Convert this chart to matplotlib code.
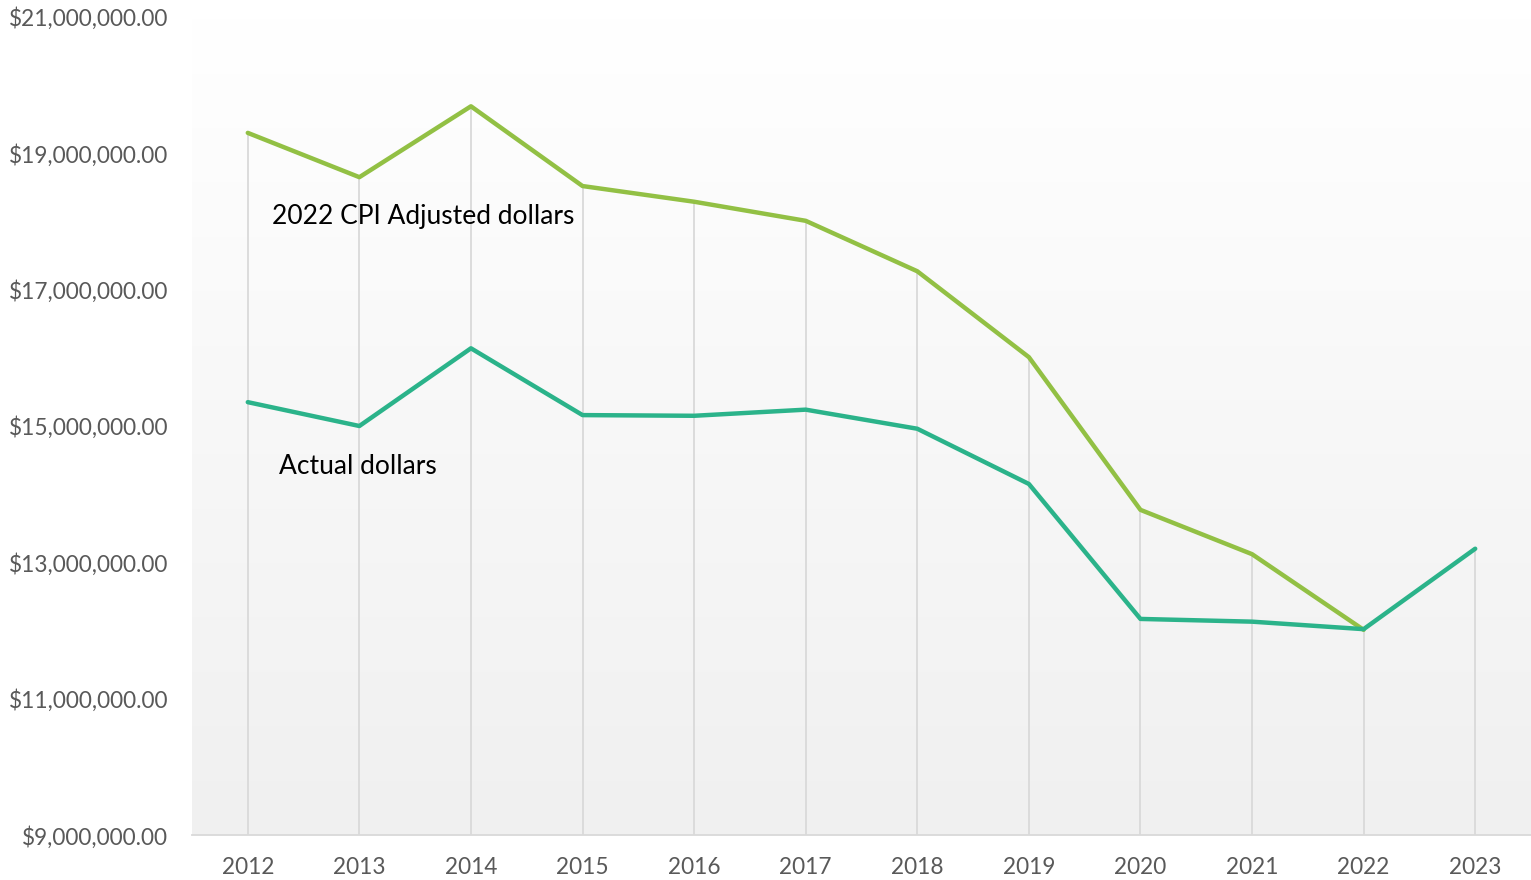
import matplotlib
matplotlib.use("Agg")
import matplotlib.pyplot as plt
import numpy as np

years = ["2012", "2013", "2014", "2015", "2016", "2017", "2018", "2019", "2020", "2021", "2022", "2023"]
cpi_adjusted = [19.30, 18.65, 19.69, 18.52, 18.29, 18.01, 17.27, 16.01, 13.77, 13.12, 12.01]
actual = [15.35, 15.00, 16.14, 15.16, 15.15, 15.24, 14.96, 14.15, 12.17, 12.13, 12.02, 13.20]
y_ticks = [9, 11, 13, 15, 17, 19, 21]

plt.rcParams['font.family'] = ['Lato', 'DejaVu Sans']

fig = plt.figure(figsize=(15.31, 8.80), dpi=100)
ax = fig.add_axes([0.1254, 0.0511, 0.8746, 0.9296])

x = np.arange(len(years))
ax.set_xlim(-0.5, len(years) - 0.5)
ax.set_ylim(9, 21)

# background gradient, light gray at bottom to white at top
grad = np.linspace(0.0, 1.0, 256).reshape(-1, 1)
ax.imshow(grad, extent=[-0.5, len(years) - 0.5, 9, 21], aspect='auto',
          cmap=matplotlib.colors.LinearSegmentedColormap.from_list('bg', ['#f0f0f0', '#ffffff']),
          origin='lower', zorder=0)

# drop lines from highest point down to axis
for i in range(len(years)):
    top = actual[i]
    if i < len(cpi_adjusted):
        top = max(top, cpi_adjusted[i])
    ax.plot([i, i], [9, top], color='#d9d9d9', lw=1.3, zorder=1)

ax.plot(x[:len(cpi_adjusted)], cpi_adjusted, color='#92c044', lw=3.2, zorder=3, solid_capstyle='round')
ax.plot(x, actual, color='#2bb38a', lw=3.2, zorder=4, solid_capstyle='round')

ax.text(0.22, 18.08, "2022 CPI Adjusted dollars", fontsize=19, color='black', va='center')
ax.text(0.28, 14.40, "Actual dollars", fontsize=19, color='black', va='center')

ax.set_xticks(x)
ax.set_xticklabels(years)
ax.set_yticks(y_ticks)
ax.set_yticklabels(["${:,.2f}".format(v * 1e6) for v in y_ticks])
ax.tick_params(axis='both', length=0, labelsize=16.3, colors='#595959')
ax.tick_params(axis='x', pad=16)
ax.tick_params(axis='y', pad=17)

for s in ['top', 'right', 'left']:
    ax.spines[s].set_visible(False)
ax.spines['bottom'].set_color('#d9d9d9')
ax.spines['bottom'].set_linewidth(1.3)

fig.savefig("out.png", dpi=100)
